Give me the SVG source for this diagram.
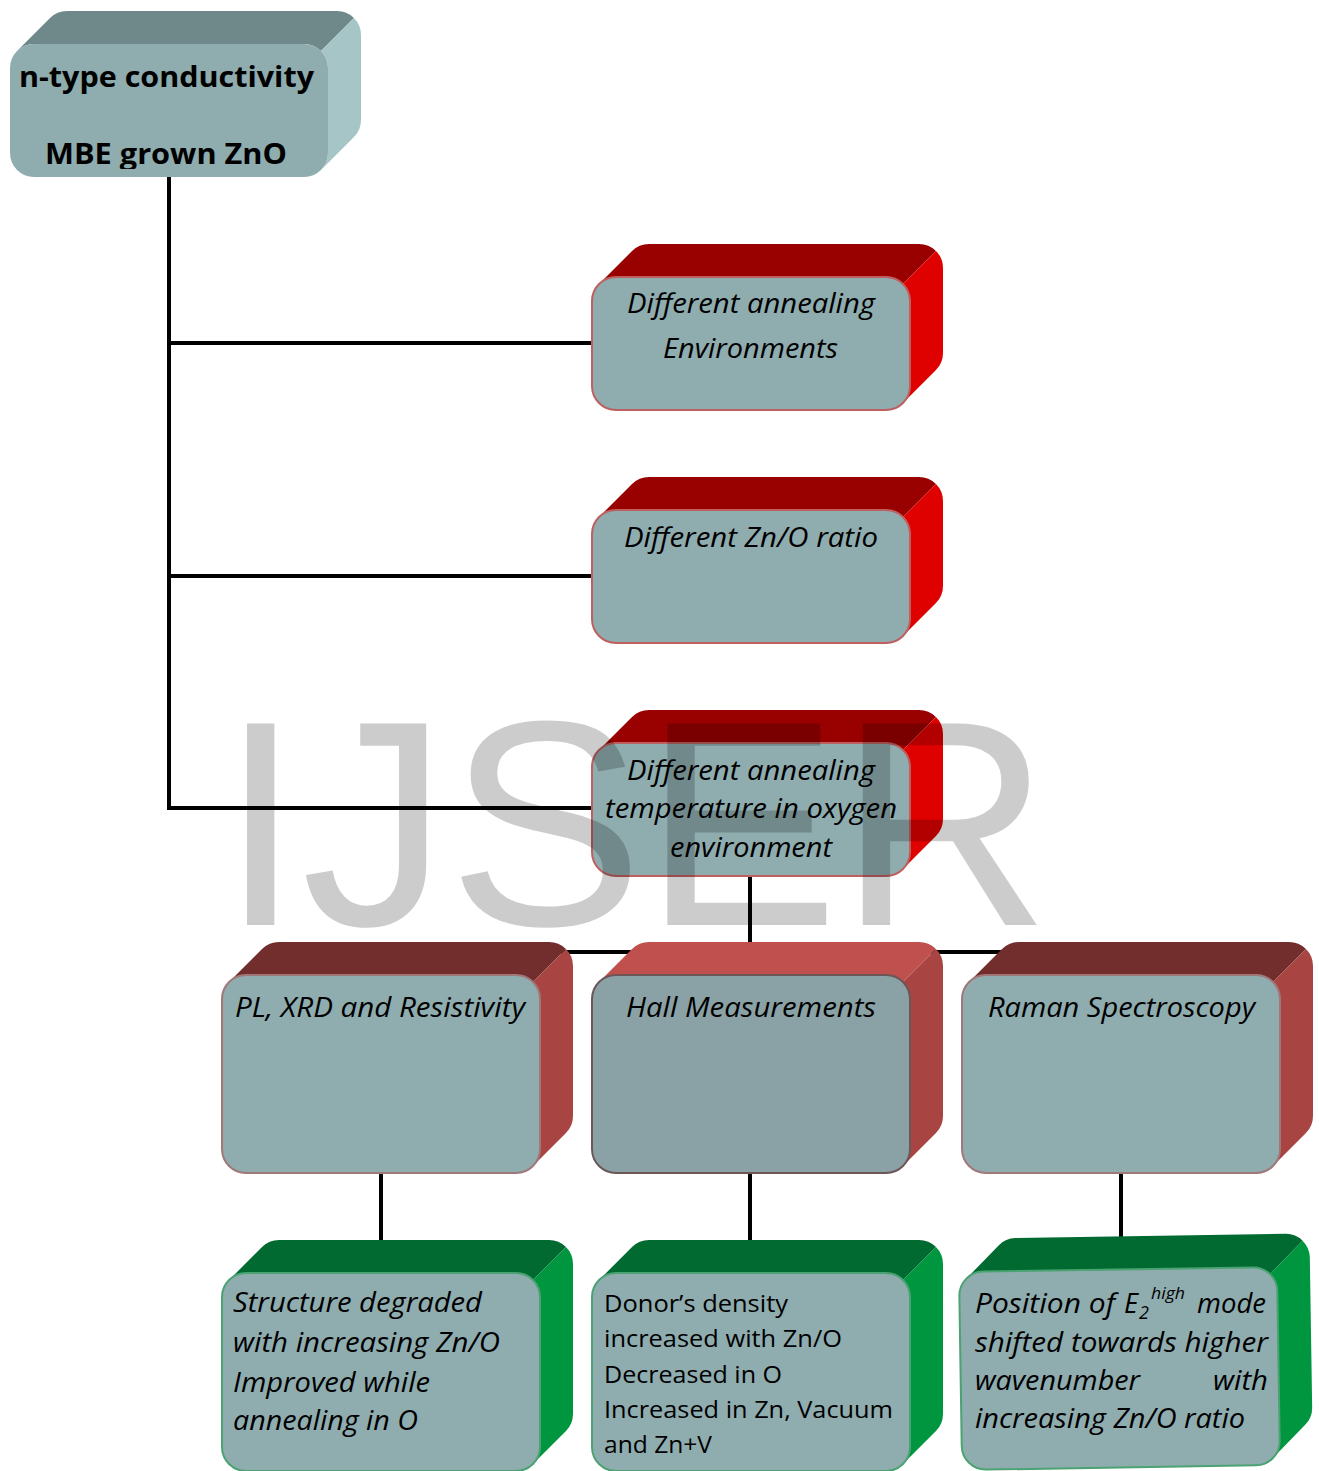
<svg xmlns="http://www.w3.org/2000/svg" width="1319" height="1471" viewBox="0 0 1319 1471">
<style>
.face{fill:#8FACAF}
.tt{fill:#6F898B}.ts{fill:#A6C5C7}
.rt{fill:#990000}.rs{fill:#DF0000}.rf{stroke:#BE5F60;stroke-width:2}
.dt{fill:#722D2D}.ds{fill:#A84442}.df{stroke:#A07878;stroke-width:2}
.ht{fill:#C0504D}.hf{fill:#8AA2A5;stroke:#6C5656;stroke-width:2}
.gt{fill:#006A30}.gs{fill:#00963F}.gf{stroke:#4BA272;stroke-width:2}
.conn{stroke:#000;stroke-width:4;fill:none}
.t{font-family:"Open Sans","Noto Sans","Liberation Sans",sans-serif;fill:#000}
.b{font-weight:bold;font-size:28px}
.i{font-style:italic;font-size:27px}
.n{font-size:24px}
.wm{font-family:"Liberation Sans",Arial,sans-serif;font-size:293px;fill:#000;fill-opacity:0.2}
</style>
<defs>
<path id="top" d="M7.03,7.03 L40.03,-25.97 A24,24 0 0 1 57,-33 L327,-33 A24,24 0 0 1 343.97,-25.97 L310.97,7.03 A24,24 0 0 0 294,0 L24,0 A24,24 0 0 0 7.03,7.03 Z"/>
<path id="sideA" d="M310.97,7.03 L343.97,-25.97 A24,24 0 0 1 351,-9 L351,76 A24,24 0 0 1 343.97,92.97 L310.97,125.97 A24,24 0 0 0 318,109 L318,24 A24,24 0 0 0 310.97,7.03 Z"/>
<path id="sideB" d="M310.97,7.03 L343.97,-25.97 A24,24 0 0 1 351,-9 L351,141 A24,24 0 0 1 343.97,157.97 L310.97,190.97 A24,24 0 0 0 318,174 L318,24 A24,24 0 0 0 310.97,7.03 Z"/>
<rect id="frontA" width="318" height="133" rx="24"/>
<rect id="frontB" width="318" height="198" rx="24"/>
<clipPath id="clipTop"><rect x="0" y="0" width="400" height="169"/></clipPath>
</defs>
<rect width="1319" height="1471" fill="#fff"/>
<g id="connectors">
<path class="conn" d="M169,176 V810 M169,343 H592 M169,576 H592 M167,808 H592"/>
<path class="conn" d="M750,876 V952 M381,952 H1121 M381,1173 V1242 M750,1173 V1242 M1121,1173 V1240"/>
</g>
<g id="node-ntype">
<g transform="translate(10,44)">
<use href="#top" class="tt"/><use href="#sideA" class="ts"/><use href="#frontA" class="face"/>
</g>
<g clip-path="url(#clipTop)">
<text class="t b" x="19" y="87" textLength="295" lengthAdjust="spacingAndGlyphs">n-type conductivity</text>
<text class="t b" x="45" y="164" textLength="242" lengthAdjust="spacingAndGlyphs">MBE grown ZnO</text>
</g>
</g>
<g id="node-env">
<g transform="translate(592,277)">
<use href="#top" class="rt"/><use href="#sideA" class="rs"/><use href="#frontA" class="face rf"/>
</g>
<text class="t i" x="627" y="313" textLength="248" lengthAdjust="spacingAndGlyphs">Different annealing</text>
<text class="t i" x="663" y="358" textLength="175" lengthAdjust="spacingAndGlyphs">Environments</text>
</g>
<g id="node-ratio">
<g transform="translate(592,510)">
<use href="#top" class="rt"/><use href="#sideA" class="rs"/><use href="#frontA" class="face rf"/>
</g>
<text class="t i" x="624" y="547" textLength="254" lengthAdjust="spacingAndGlyphs">Different Zn/O ratio</text>
</g>
<g id="node-temp">
<g transform="translate(592,743)">
<use href="#top" class="rt"/><use href="#sideA" class="rs"/><use href="#frontA" class="face rf"/>
</g>
<text class="t i" x="627" y="780" textLength="248" lengthAdjust="spacingAndGlyphs">Different annealing</text>
<text class="t i" x="605" y="818" textLength="292" lengthAdjust="spacingAndGlyphs">temperature in oxygen</text>
<text class="t i" x="670" y="857" textLength="162" lengthAdjust="spacingAndGlyphs">environment</text>
</g>
<g id="node-pl">
<g transform="translate(222,975)">
<use href="#top" class="dt"/><use href="#sideB" class="ds"/><use href="#frontB" class="face df"/>
</g>
<text class="t i" x="235" y="1017" textLength="290" lengthAdjust="spacingAndGlyphs">PL, XRD and Resistivity</text>
</g>
<g id="node-hall">
<g transform="translate(592,975)">
<use href="#top" class="ht"/><use href="#sideB" class="ds"/><use href="#frontB" class="hf"/>
</g>
<text class="t i" x="626" y="1017" textLength="250" lengthAdjust="spacingAndGlyphs">Hall Measurements</text>
</g>
<g id="node-raman">
<g transform="translate(962,975)">
<use href="#top" class="dt"/><use href="#sideB" class="ds"/><use href="#frontB" class="face df"/>
</g>
<text class="t i" x="988" y="1017" textLength="267" lengthAdjust="spacingAndGlyphs">Raman Spectroscopy</text>
</g>
<g id="node-structure">
<g transform="translate(222,1273)">
<use href="#top" class="gt"/><use href="#sideB" class="gs"/><use href="#frontB" class="face gf"/>
</g>
<text class="t i" x="233" y="1312" textLength="249" lengthAdjust="spacingAndGlyphs">Structure degraded</text>
<text class="t i" x="233" y="1352" textLength="267" lengthAdjust="spacingAndGlyphs">with increasing Zn/O</text>
<text class="t i" x="233" y="1392" textLength="197" lengthAdjust="spacingAndGlyphs">Improved while</text>
<text class="t i" x="233" y="1430" textLength="185" lengthAdjust="spacingAndGlyphs">annealing in O</text>
</g>
<g id="node-donor">
<g transform="translate(592,1273)">
<use href="#top" class="gt"/><use href="#sideB" class="gs"/><use href="#frontB" class="face gf"/>
</g>
<text class="t n" x="604" y="1312" textLength="184" lengthAdjust="spacingAndGlyphs">Donor’s density</text>
<text class="t n" x="604" y="1347" textLength="238" lengthAdjust="spacingAndGlyphs">increased with Zn/O</text>
<text class="t n" x="604" y="1383" textLength="178" lengthAdjust="spacingAndGlyphs">Decreased in O</text>
<text class="t n" x="604" y="1418" textLength="289" lengthAdjust="spacingAndGlyphs">Increased in Zn, Vacuum</text>
<text class="t n" x="604" y="1453" textLength="108" lengthAdjust="spacingAndGlyphs">and Zn+V</text>
</g>
<g id="node-position">
<g transform="translate(959,1272) rotate(-0.9)">
<use href="#top" class="gt"/><use href="#sideB" class="gs"/><use href="#frontB" class="face gf"/>
</g>
<text class="t i" x="975" y="1313" textLength="140" lengthAdjust="spacingAndGlyphs">Position of</text>
<text class="t i" x="1124" y="1313">E</text>
<text class="t i" x="1139" y="1319" style="font-size:18px">2</text>
<text class="t i" x="1151" y="1299" style="font-size:16px" textLength="34" lengthAdjust="spacingAndGlyphs">high</text>
<text class="t i" x="1266" y="1313" text-anchor="end" textLength="69" lengthAdjust="spacingAndGlyphs">mode</text>
<text class="t i" x="975" y="1352" textLength="293" lengthAdjust="spacingAndGlyphs">shifted towards higher</text>
<text class="t i" x="975" y="1390" textLength="165" lengthAdjust="spacingAndGlyphs">wavenumber</text>
<text class="t i" x="1268" y="1390" text-anchor="end" textLength="55" lengthAdjust="spacingAndGlyphs">with</text>
<text class="t i" x="975" y="1428" textLength="270" lengthAdjust="spacingAndGlyphs">increasing Zn/O ratio</text>
</g>
<text class="wm" x="220" y="925">IJSER</text>
</svg>
